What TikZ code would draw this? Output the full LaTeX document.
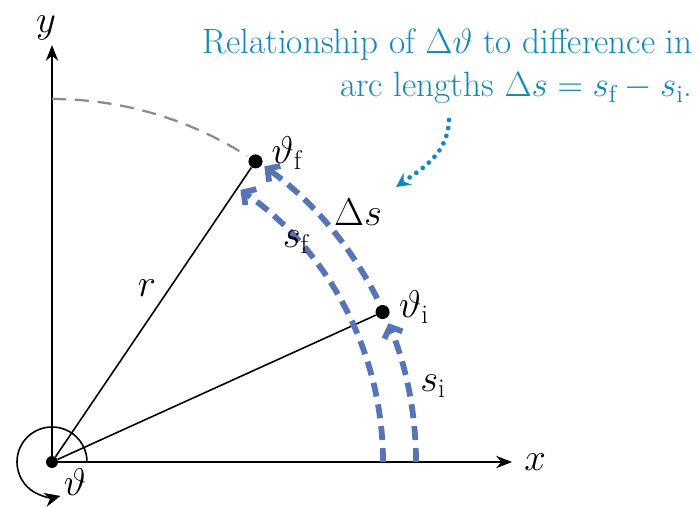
\RequirePackage{fix-cm}
\documentclass[tikz,border=0pt]{standalone}
\usepackage{amsmath,amssymb}
\usepackage{fontspec}
\usepackage{tikz}
\usetikzlibrary{arrows.meta, positioning, calc}

\definecolor{calloutblue}{RGB}{18,137,186}
\definecolor{arcblue}{RGB}{86,116,182}
\definecolor{guidegray}{RGB}{140,140,140}

\begin{document}
\begin{tikzpicture}[x=0.02cm, y=0.02cm,
    axis/.style={line width=1.1pt, -{Stealth[length=9pt,width=7pt]}},
    radial/.style={line width=0.9pt},
    dot/.style={circle, fill=black, inner sep=0pt, minimum size=8pt},
    guide/.style={guidegray, line width=1.3pt, dash pattern=on 8pt off 5pt},
    arcpath/.style={arcblue, line width=3.3pt, dash pattern=on 8pt off 4.5pt,
      -{Straight Barb[length=5pt,width=11pt]}},
    anglearc/.style={line width=0.9pt, -{Stealth[length=9pt,width=8pt]}},
    lbl/.style={font=\fontsize{22}{26}\selectfont, inner sep=0pt},
    callout/.style={calloutblue, font=\fontsize{20}{25}\selectfont, align=right, inner sep=0pt},
    pointer/.style={calloutblue, line width=2.7pt, line cap=round, dash pattern=on 0pt off 4.6pt,
      -{Stealth[length=8pt,width=8pt]}}]
      \useasboundingbox (-52,-45) rectangle (648,462);

      % Points
      \node[dot, minimum size=6.8pt] (O) at (0,0) {};
      \node[dot] (F) at (55.9:363) {};
      \node[dot] (I) at (24.4:363) {};

      % Axes
      \coordinate (xend) at (460,0);
      \coordinate (yend) at (0,417);
      \draw[axis] (O.center) -- (xend);
      \draw[axis] (O.center) -- (yend);
      \node[lbl] (xlabel) at (483,0) {$x$};
      \node[lbl] (ylabel) at (-6,434) {$y$};

      % Radii
      \draw[radial] (O) -- (F);
      \draw[radial] (O) -- (I);
      \node[lbl] (rlabel) at (95,174) {$r$};

      % Circle of radius r
      \draw[guide] (90:363) arc[start angle=90, end angle=57.5, radius=363];

      % Angle
      \draw[anglearc] (0:35) arc[start angle=0, end angle=284, radius=35];
      \node[lbl] (anglelabel) at (23,-20) {$\vartheta$};

      % Point labels
      \node[lbl] (flabel) at (235,309) {$\vartheta_{\mathrm{f}}$};
      \node[lbl] (ilabel) at (362,155) {$\vartheta_{\mathrm{i}}$};

      % Arc lengths
      \draw[arcpath] (0:331) arc[start angle=0, end angle=55.3, radius=331];
      \draw[arcpath] (0:364) arc[start angle=0, end angle=22.4, radius=364];
      \draw[arcpath] (26.7:364) arc[start angle=26.7, end angle=54.3, radius=364];
      \node[lbl] (sflabel) at (244,220) {$s_{\mathrm{f}}$};
      \node[lbl] (dslabel) at (306,250) {$\Delta s$};
      \node[lbl] (silabel) at (381,76) {$s_{\mathrm{i}}$};

      % Callout
      \node[callout, anchor=north east] (note) at (641,434)
        {Relationship of $\Delta\vartheta$ to difference in\\
         arc lengths $\Delta s = s_{\mathrm{f}} - s_{\mathrm{i}}$.};
      \coordinate (pstart) at (397,342);
      \coordinate (pend) at (344,275);
      \draw[pointer] (pstart) to[out=-92, in=35] (pend);
\end{tikzpicture}
\end{document}
